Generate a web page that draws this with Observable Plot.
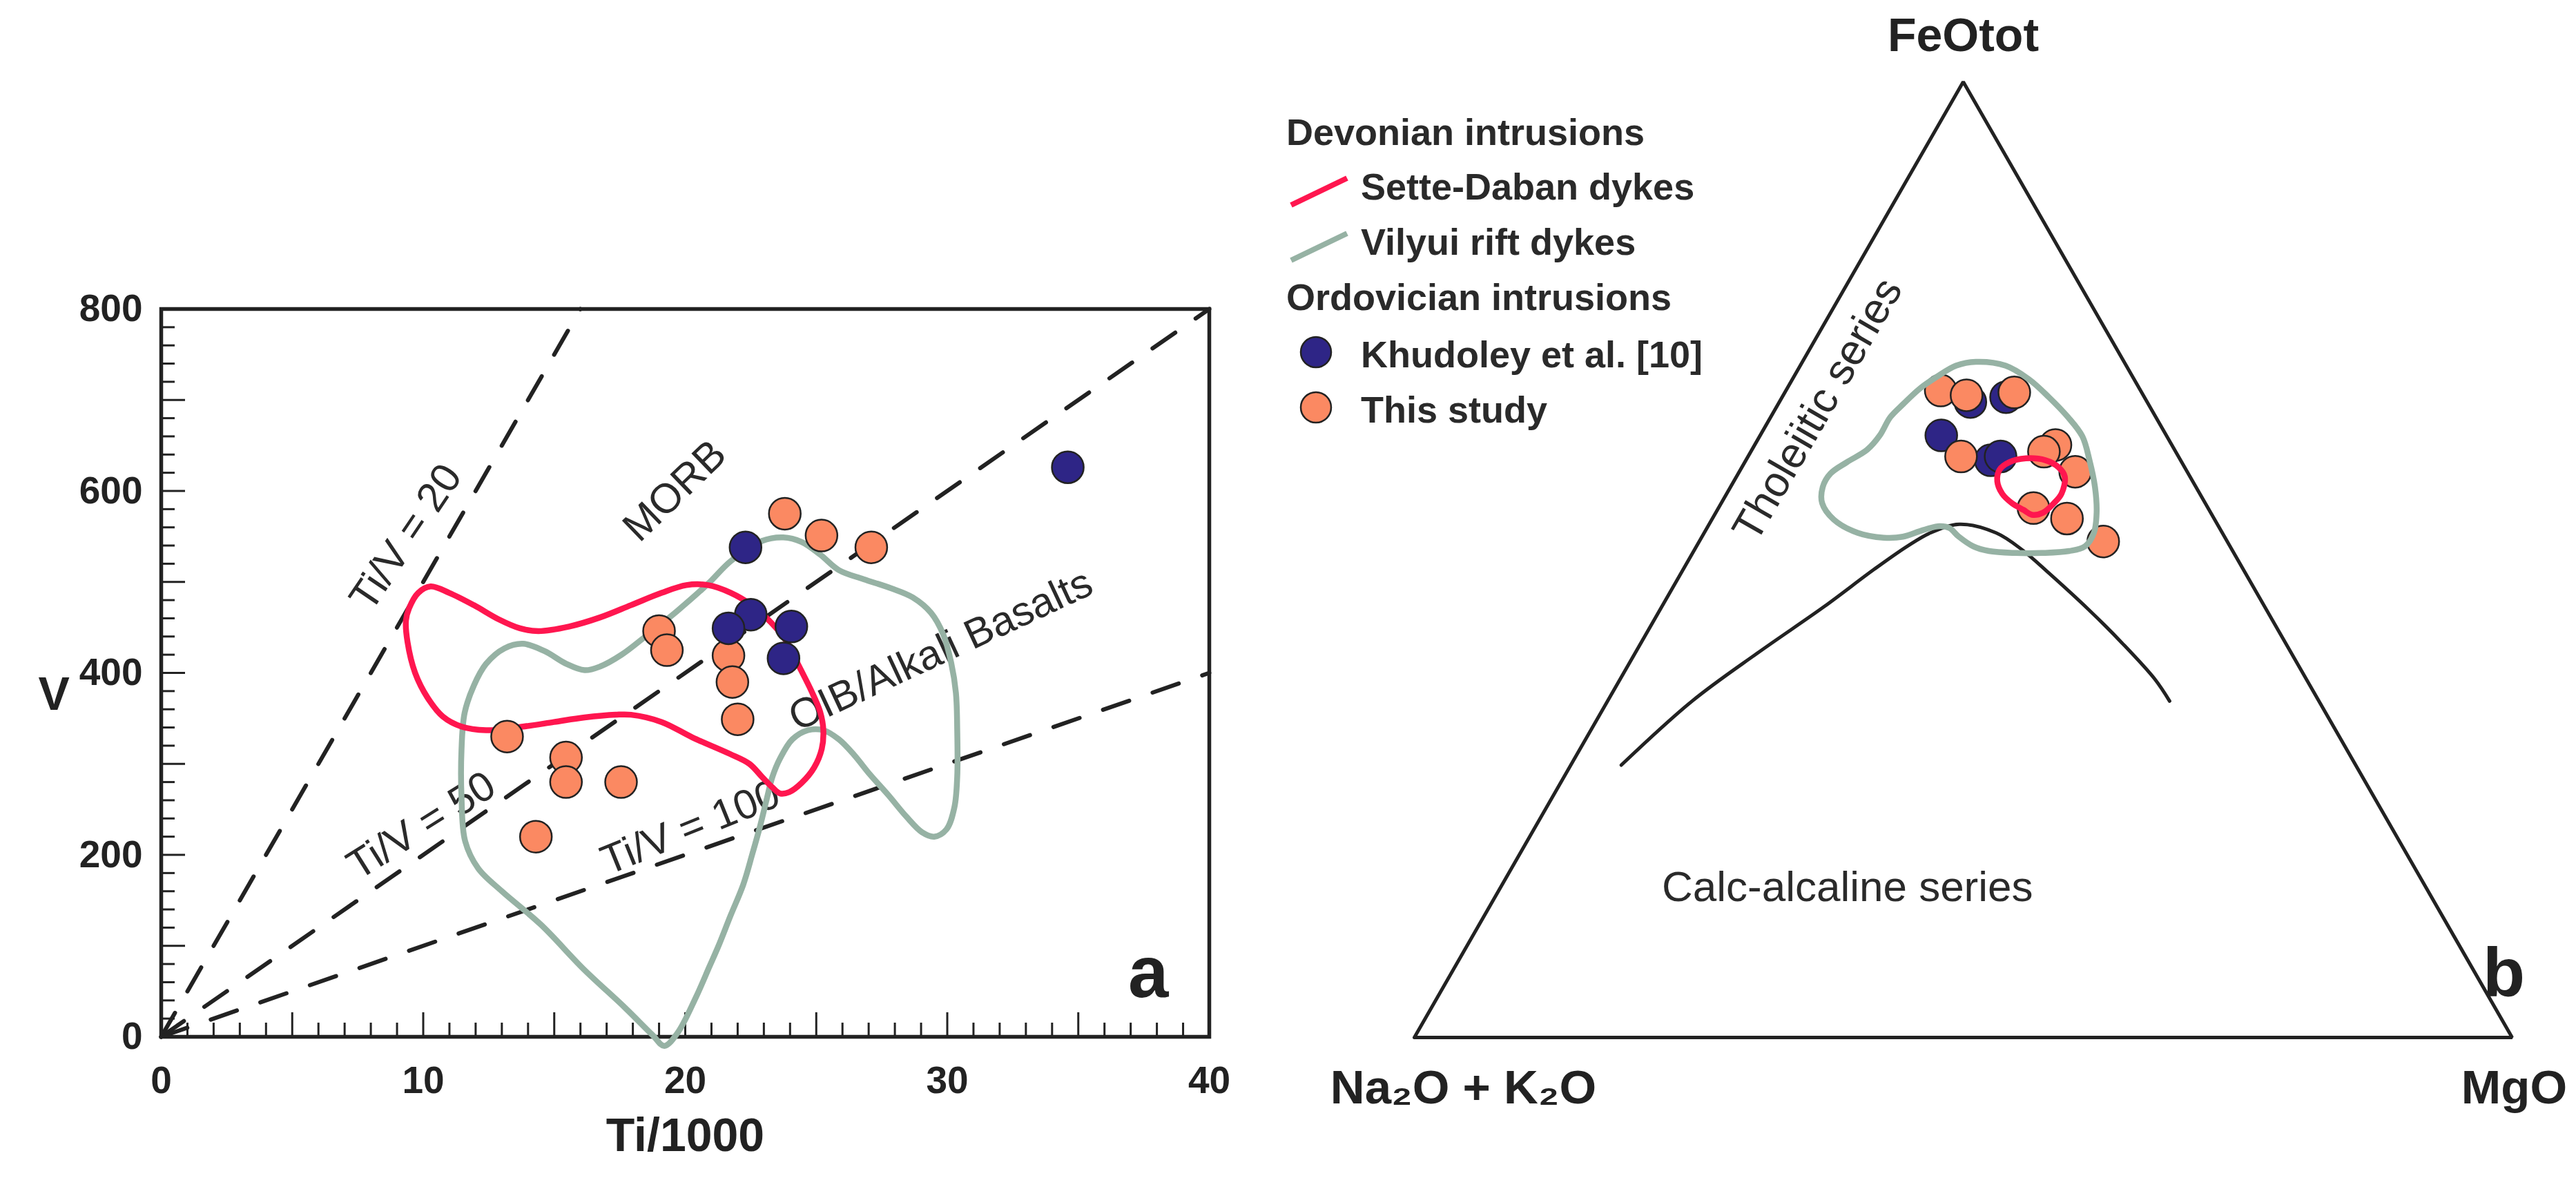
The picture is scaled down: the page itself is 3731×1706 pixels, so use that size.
<!DOCTYPE html>
<html>
<head>
<meta charset="utf-8">
<script src="https://cdn.jsdelivr.net/npm/d3@7"></script>
<script src="https://cdn.jsdelivr.net/npm/@observablehq/plot@0.6"></script>
<style>
  html, body { margin: 0; padding: 0; background: #ffffff; }
  #page { position: relative; width: 3731px; height: 1706px; overflow: hidden; background: #ffffff; }
  #panelA { position: absolute; left: 0; top: 0; }
  #panelB { position: absolute; left: 1800px; top: 0; }
  #legend { position: absolute; left: 1850px; top: 150px; }
</style>
</head>
<body>
<div id="page">
  <div id="panelA"></div>
  <div id="panelB"></div>
  <div id="legend"></div>
</div>
<script>
// ---------------- DATA: panel a (Ti/1000 vs V) ----------------
const thisStudyTi = [23.8, 25.2, 27.1, 19.0, 19.3, 21.65, 21.8, 22.0, 13.2, 15.45, 15.45, 17.55, 14.3];
const thisStudyV  = [575, 551, 538, 446, 425, 419, 390, 349, 330, 307, 280, 280, 220];
const khudoleyTi  = [34.6, 22.3, 22.5, 21.65, 24.05, 23.75];
const khudoleyV   = [626, 538, 464, 449, 451, 416];

const setteDabanTiV = [
  [9.46,471],[9.81,488],[10.28,495],[10.99,488],[11.93,474.5],[12.87,459],[13.69,449],[14.4,446],
  [15.57,451],[16.75,461],[17.93,474.5],[19.1,488],[20.04,496.5],[20.87,496.5],[21.74,488],[22.56,474],
  [23.27,455.5],[23.86,435],[24.33,408],[24.8,381],[25.15,357],[25.27,337],[25.21,316.5],[24.92,296],
  [24.44,279],[23.97,269],[23.62,267.5],[23.33,274],[22.92,286],[22.45,300],[21.7,311],[20.28,329],
  [19.1,346],[17.93,354],[17.34,354],[16.16,351],[14.99,346],[13.81,341],[12.4,337],[11.46,341],
  [10.75,352],[10.16,373],[9.69,400],[9.4,434],[9.34,457.5]
];
const vilyuiTiV = [
  [13.1,427],[13.81,432],[14.63,424],[15.46,410],[16.16,403],[16.75,407],[17.57,420],[18.52,441],
  [19.69,468],[20.87,498],[21.74,523],[22.92,545],[23.74,549],[24.44,544],[25.15,530],[25.86,513],
  [26.8,503],[27.86,493],[28.68,483],[29.38,466],[29.85,442],[30.15,411],[30.33,378],[30.38,337],
  [30.38,286],[30.27,252],[29.97,228],[29.5,220],[29.03,225],[28.44,242],[27.74,266],[27.03,289],
  [26.44,310],[25.86,327],[25.27,337],[24.68,337],[24.09,327],[23.62,306],[23.33,286],[23.09,259],
  [22.86,232],[22.56,201],[22.21,167],[21.74,134],[21.27,100],[20.92,77],[20.4,43],[19.7,4],
  [19.2,-10],[18.75,2],[17.7,32],[16.1,75],[14.5,123],[13.0,160],[12.1,185],[11.6,215],
  [11.46,264],[11.46,315],[11.58,356],[11.93,386],[12.4,410]
];
const ratioValues = [20, 50, 100];           // Ti/V reference lines
const xTickLabels = [0, 10, 20, 30, 40];
const yTickLabels = [0, 200, 400, 600, 800];
const fieldLabels     = ["Ti/V = 20", "MORB", "Ti/V = 50", "Ti/V = 100", "OIB/Alkali Basalts"];
const fieldLabelTi    = [9.34, 19.6, 9.93, 20.2, 29.75];
const fieldLabelV     = [549, 600, 232, 230, 425];
const fieldLabelAngle = [-56, -44, -32, -22, -25];

// ---------------- DATA: panel b (AFM ternary) [Na2O+K2O, FeOtot, MgO] ----------------
const thisStudyAFM = [
  [18.2,67.7,14.1],[16.1,67.2,16.7],[11.6,67.5,20.9],[19.8,60.8,19.4],[10.6,62.0,27.4],
  [12.0,61.3,26.7],[10.2,59.2,30.6],[15.9,55.4,28.7],[13.4,54.3,32.3],[11.3,51.9,36.8]
];
const khudoleyAFM = [
  [16.1,66.5,17.4],[12.6,67.0,20.4],[20.5,63.0,16.5],[17.3,60.4,22.3],[16.2,60.8,23.0]
];
const vilyuiAFM = [
  [13.5,70.7,15.8],[11.0,70.3,18.7],[9.6,68.9,21.5],[8.7,67.0,24.3],[8.0,64.9,27.1],[7.7,62.9,29.4],
  [8.3,60.4,31.3],[9.2,57.6,33.2],[10.4,54.9,34.7],[11.7,52.8,35.5],[13.2,51.4,35.4],[14.9,50.9,34.2],
  [17.5,50.7,31.8],[19.9,50.7,29.4],[22.2,50.9,26.9],[23.4,51.4,25.2],[24.2,52.4,23.4],[24.6,53.3,22.1],
  [25.4,53.5,21.1],[27.1,53.1,19.8],[29.3,52.4,18.3],[31.1,52.3,16.6],[33.2,52.8,14.0],[34.7,54.2,11.1],
  [34.9,55.9,9.2],[34.0,57.6,8.4],[32.6,59.0,8.4],[30.5,60.2,9.3],[28.0,61.5,10.5],[26.1,63.0,10.9],
  [24.2,64.9,10.9],[22.3,66.3,11.4],[20.0,67.9,12.1],[17.9,69.1,13.0],[15.5,70.3,14.2]
];
const setteDabanAFM = [
  [17.0,59.4,23.6],[15.7,60.2,24.1],[14.0,60.6,25.4],[12.3,60.4,27.3],[11.5,59.7,28.8],[11.4,58.7,29.9],
  [12.6,56.9,30.5],[13.8,55.9,30.3],[15.3,54.9,29.8],[16.4,54.7,28.9],[16.9,55.2,27.9],[17.6,55.9,26.5],
  [18.0,56.9,25.1],[17.8,58.2,24.0]
];
const seriesDivideAFM = [
  [66.9,28.5,4.6],[57.1,35.2,7.7],[48.5,40.3,11.2],[40.1,45.1,14.8],[33.6,49.0,17.4],[29.4,51.4,19.2],
  [26.6,52.8,20.6],[23.5,53.7,22.8],[20.6,52.8,26.6],[19.1,51.0,29.9],[17.9,48.6,33.5],[16.2,44.8,39.0],
  [14.9,41.3,43.8],[13.8,37.5,48.7],[13.6,35.2,51.2]
];
const triangleAFM = [[100,0,0],[0,100,0],[0,0,100],[100,0,0]];
const vertexLabels = ["Na₂O + K₂O", "FeOtot", "MgO"];
const seriesLabels = ["Tholeiitic series", "Calc-alcaline series"];
const seriesLabelAFM = [[30.4,65.7,3.9],[52.7,15.7,31.6]];
const seriesLabelAngle = [-60, 0];

// ---------------- LEGEND ----------------
const legendHeaders = ["Devonian intrusions", "Ordovician intrusions"];
const legendLineLabels = ["Sette-Daban dykes", "Vilyui rift dykes"];
const legendDotLabels = ["Khudoley et al. [10]", "This study"];

// ---------------- STYLE ----------------
const FONT = "'Liberation Sans', Arial, Helvetica, sans-serif";
const INK = "#222222";
const RED = "#ff164f";
const GREEN = "#96b2a4";
const ORANGE = "#fb8962";
const BLUE = "#2e2586";

// ---------------- PANEL A ----------------
const W_A = 1800, H_A = 1706;
const mA = {left: 233, right: 49, top: 447, bottom: 205};
const FW = W_A - mA.left - mA.right, FH = H_A - mA.top - mA.bottom;

const thisStudy = thisStudyTi.map((t, i) => ({ti: t, v: thisStudyV[i]}));
const khudoley = khudoleyTi.map((t, i) => ({ti: t, v: khudoleyV[i]}));
const sette = setteDabanTiV.map(([ti, v]) => ({ti, v}));
const vilyui = vilyuiTiV.map(([ti, v]) => ({ti, v}));
const ratioLines = ratioValues.flatMap(r => {
  const x2 = Math.min(40, 800 * r / 1000);
  return [{r, ti: 0, v: 0}, {r, ti: x2, v: 1000 * x2 / r}];
});
const fieldText = fieldLabels.map((t, i) => ({t, ti: fieldLabelTi[i], v: fieldLabelV[i], a: fieldLabelAngle[i]}));
const xMinor = d3.range(0, 41, 1).filter(d => d % 5 !== 0);
const xMajor = d3.range(5, 40, 5);
const yMinor = d3.range(0, 801, 20).filter(d => d % 100 !== 0);
const yMajor = d3.range(100, 800, 100);

const panelA = Plot.plot({
  width: W_A, height: H_A,
  marginLeft: mA.left, marginRight: mA.right, marginTop: mA.top, marginBottom: mA.bottom,
  x: {domain: [0, 40]},
  y: {domain: [0, 800]},
  style: {fontFamily: FONT, color: INK, background: "transparent"},
  marks: [
    Plot.tickX(xMinor, {x: d => d, insetTop: FH - 20, stroke: INK, strokeWidth: 3}),
    Plot.tickX(xMajor, {x: d => d, insetTop: FH - 35, stroke: INK, strokeWidth: 3}),
    Plot.tickY(yMinor, {y: d => d, insetRight: FW - 20, stroke: INK, strokeWidth: 3}),
    Plot.tickY(yMajor, {y: d => d, insetRight: FW - 35, stroke: INK, strokeWidth: 3}),
    Plot.frame({stroke: INK, strokeWidth: 5.5}),
    Plot.line(ratioLines, {x: "ti", y: "v", z: "r", stroke: INK, strokeWidth: 6, strokeDasharray: "40,36"}),
    Plot.text(fieldText, {x: "ti", y: "v", text: "t", rotate: "a", fontSize: 60, fill: "#2a2a2a",
      textAnchor: "middle", lineAnchor: "middle"}),
    Plot.line(vilyui, {x: "ti", y: "v", curve: "catmull-rom-closed", stroke: GREEN, strokeWidth: 8.5}),
    Plot.line(sette, {x: "ti", y: "v", curve: "catmull-rom-closed", stroke: RED, strokeWidth: 8.5}),
    Plot.dot(thisStudy, {x: "ti", y: "v", r: 23, fill: ORANGE, stroke: INK, strokeWidth: 2.5}),
    Plot.dot(khudoley, {x: "ti", y: "v", r: 23, fill: BLUE, stroke: INK, strokeWidth: 2.5}),
    Plot.axisX({ticks: xTickLabels, tickSize: 0, tickPadding: 42, fontSize: 55, fontWeight: "bold", label: null}),
    Plot.axisY({ticks: yTickLabels, tickSize: 0, tickPadding: 27, fontSize: 55, fontWeight: "bold", label: null}),
    Plot.text(["V"], {frameAnchor: "left", dx: -178, dy: 32, fontSize: 68, fontWeight: "bold", fill: INK}),
    Plot.text(["Ti/1000"], {frameAnchor: "bottom", dy: 144, lineAnchor: "middle", fontSize: 68, fontWeight: "bold", fill: INK}),
    Plot.text(["a"], {frameAnchor: "bottom-right", dx: -59, dy: -58, lineAnchor: "bottom", fontSize: 105, fontWeight: "bold", fill: INK})
  ]
});
document.getElementById("panelA").appendChild(panelA);

// ---------------- PANEL B ----------------
const SQ3 = Math.sqrt(3) / 2;
function tern([a, f, m]) {
  const s = a + f + m;
  const F = 100 * f / s, M = 100 * m / s;
  return {x: M + F / 2, y: F * SQ3};
}
const W_B = 1931, H_B = 1706;
const mB = {left: 248, right: 93, top: 118, bottom: 204};
const tri = triangleAFM.map(tern);
const divide = seriesDivideAFM.map(tern);
const vilT = vilyuiAFM.map(tern);
const setT = setteDabanAFM.map(tern);
const khT = khudoleyAFM.map(tern);
const tsT = thisStudyAFM.map(tern);
const serT = seriesLabelAFM.map((p, i) => ({...tern(p), t: seriesLabels[i], a: seriesLabelAngle[i]}));
const vtx = [[100,0,0],[0,100,0],[0,0,100]].map((p, i) => ({...tern(p), t: vertexLabels[i]}));

const panelB = Plot.plot({
  width: W_B, height: H_B,
  marginLeft: mB.left, marginRight: mB.right, marginTop: mB.top, marginBottom: mB.bottom,
  x: {domain: [0, 100], axis: null},
  y: {domain: [0, 100 * SQ3], axis: null},
  style: {fontFamily: FONT, color: INK, background: "transparent"},
  marks: [
    Plot.line(tri, {x: "x", y: "y", stroke: INK, strokeWidth: 5, strokeLinejoin: "miter"}),
    Plot.line(divide, {x: "x", y: "y", curve: "catmull-rom", stroke: INK, strokeWidth: 5}),
    Plot.text(serT, {x: "x", y: "y", text: "t", rotate: "a", fontSize: 62, fill: "#2a2a2a"}),
    Plot.dot(khT, {x: "x", y: "y", r: 23, fill: BLUE, stroke: INK, strokeWidth: 2.5}),
    Plot.dot(tsT, {x: "x", y: "y", r: 23, fill: ORANGE, stroke: INK, strokeWidth: 2.5}),
    Plot.line(vilT, {x: "x", y: "y", curve: "catmull-rom-closed", stroke: GREEN, strokeWidth: 8.5}),
    Plot.line(setT, {x: "x", y: "y", curve: "catmull-rom-closed", stroke: RED, strokeWidth: 8.5}),
    Plot.text([vtx[1]], {x: "x", y: "y", text: "t", dy: -45, lineAnchor: "bottom", fontSize: 68, fontWeight: "bold", fill: INK}),
    Plot.text([vtx[0]], {x: "x", y: "y", text: "t", dx: 71, dy: 73, lineAnchor: "middle", fontSize: 69, fontWeight: "bold", fill: INK}),
    Plot.text([vtx[2]], {x: "x", y: "y", text: "t", dx: 3, dy: 73, lineAnchor: "middle", fontSize: 69, fontWeight: "bold", fill: INK}),
    Plot.text([{...vtx[2], t: "b"}], {x: "x", y: "y", text: "t", dx: -12, dy: -60, lineAnchor: "bottom", fontSize: 100, fontWeight: "bold", fill: INK})
  ]
});
document.getElementById("panelB").appendChild(panelB);

// ---------------- LEGEND ----------------
const lg = d3.select("#legend").append("svg")
  .attr("width", 640).attr("height", 520)
  .style("font-family", FONT).style("font-weight", "bold").style("font-size", "54px");
const headerY = [60, 299];
legendHeaders.forEach((t, i) => lg.append("text").attr("x", 13).attr("y", headerY[i]).attr("fill", "#2a2a2a").text(t));
const lineColors = [RED, GREEN];
const lineY = [139, 219];
legendLineLabels.forEach((t, i) => {
  lg.append("line").attr("x1", 20).attr("y1", lineY[i] + 8).attr("x2", 101).attr("y2", lineY[i] - 31)
    .attr("stroke", lineColors[i]).attr("stroke-width", 8);
  lg.append("text").attr("x", 121).attr("y", lineY[i]).attr("fill", "#2a2a2a").text(t);
});
const dotColors = [BLUE, ORANGE];
const dotY = [382, 462];
legendDotLabels.forEach((t, i) => {
  lg.append("circle").attr("cx", 56).attr("cy", dotY[i] - 22).attr("r", 22)
    .attr("fill", dotColors[i]).attr("stroke", INK).attr("stroke-width", 2.5);
  lg.append("text").attr("x", 121).attr("y", dotY[i]).attr("fill", "#2a2a2a").text(t);
});
</script>
</body>
</html>
